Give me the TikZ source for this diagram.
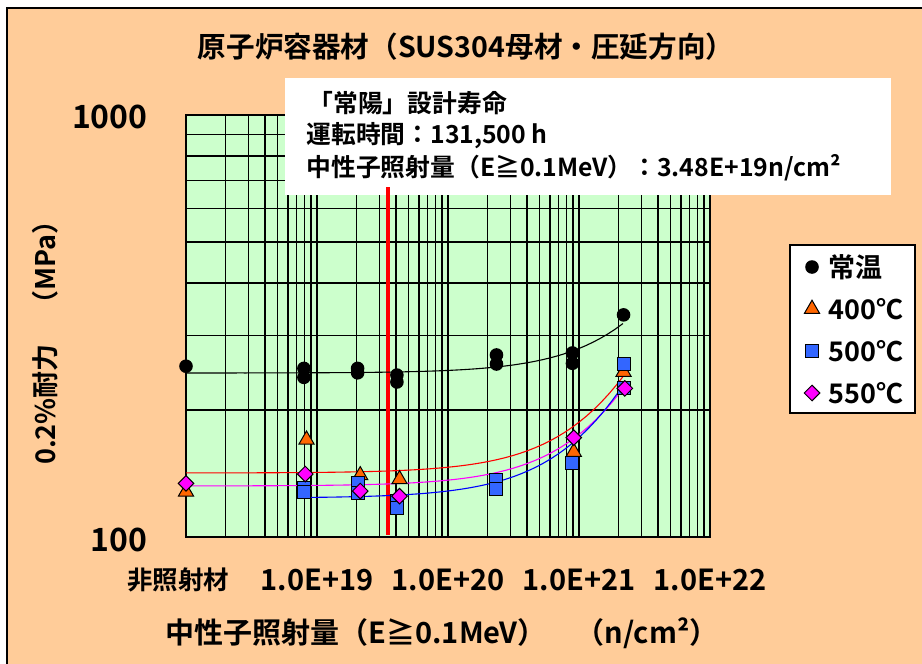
\documentclass[tikz,border=0pt]{standalone}
\usepackage{fontspec}
\setmainfont{Noto Sans CJK JP}[BoldFont={Noto Sans CJK JP Bold}]
\usetikzlibrary{shapes.geometric}
\definecolor{framebg}{HTML}{FFCC99}
\definecolor{plotbg}{HTML}{CCFFCC}
\definecolor{tri}{HTML}{FF6600}
\definecolor{sq}{HTML}{3366FF}
\definecolor{dia}{HTML}{FF00FF}
\newcommand{\fsz}[1]{\fontsize{#1}{#1}\selectfont\bfseries}

\begin{document}
\begin{tikzpicture}[x=0.5pt, y=-0.5pt,
	gridline/.style={black, line width=0.7pt},
	mkcirc/.style={circle, fill=black, inner sep=0pt, minimum size=6.8pt},
	mktri/.style={regular polygon, regular polygon sides=3, fill=tri, draw=black, line width=0.5pt, inner sep=0pt, minimum size=8.8pt},
	mksq/.style={rectangle, fill=sq, draw=black, line width=0.5pt, inner sep=0pt, minimum size=6.5pt},
	mkdia/.style={diamond, fill=dia, draw=black, line width=0.5pt, inner sep=0pt, minimum size=8pt},
	trend/.style={line width=0.55pt},
	boxtext/.style={anchor=west, inner sep=0pt, font=\fsz{12.4pt}},
	tick/.style={inner sep=0pt, font=\fsz{14.5pt}},
	legtext/.style={anchor=west, inner sep=0pt, font=\fsz{13.5pt}}]
	\useasboundingbox (0,0) rectangle (922,664);
	\clip (0,0) rectangle (922,664);
	\fill[white] (0,0) rectangle (922,664);
	\fill[framebg] (7,8) rectangle (930,670);
	\draw[black, line width=1pt] (7,670) -- (7,8) -- (930,8);

	% plot area: x in decades above 1E18, y in log10(MPa)-2
	\begin{scope}[shift={(186,537)}, x=65.5pt, y=211pt]
		\fill[plotbg] (0,0) rectangle (4,1);
		\foreach \d in {0,...,3}{
			\foreach \m in {2,...,9}
				\draw[gridline] ({\d+log10(\m)},0) -- ({\d+log10(\m)},1);
			\draw[gridline] (\d,0) -- (\d,1);
		}
		\foreach \m in {2,...,9}
			\draw[gridline] (0,{log10(\m)}) -- (4,{log10(\m)});
		\draw[black, line width=0.8pt] (0,0) rectangle (4,1);
	\end{scope}

	% Joyo design life box
	\fill[white] (285,78) rectangle (891,195);
	\node[boxtext] (life) at (308,103) {「常陽」設計寿命};
	\node[boxtext] (hours) at (306,136) {運転時間：131,500 h};
	\node[boxtext] (fluence) at (306,168) {中性子照射量（E≧0.1MeV）：3.48E+19n/cm²};

	\begin{scope}[shift={(186,537)}, x=65.5pt, y=211pt]
		\coordinate (jlow) at (1.54,0.005);
		\coordinate (jhigh) at (1.54,0.83);
		\draw[red, line width=2pt] (jlow) -- (jhigh);

		\draw[trend, black] plot[domain=0:3.336, samples=60] (\x, {log10(244.7+0.035*pow(10,\x))-2});
		\draw[trend, red] plot[domain=0:3.344, samples=60] (\x, {log10(141.8+0.0453*pow(10,\x))-2});
		\draw[trend, dia] plot[domain=0:3.351, samples=60] (\x, {log10(132.1+0.0428*pow(10,\x))-2});
		\draw[trend, blue] plot[domain=0.9:3.336, samples=60] (\x, {log10(123.7+0.0485*pow(10,\x))-2});

		\foreach \f/\s [count=\i] in {18/254, 18.90/251, 18.90/239, 19.31/251, 19.31/245, 19.61/242, 19.61/233, 20.37/270, 20.37/257, 20.95/273, 20.95/258, 21.34/336}
			\node[mkcirc] (rt\i) at ({\f-18},{log10(\s)-2}) {};
		\foreach \f/\s [count=\i] in {18/128, 18.92/170, 19.33/140, 19.63/137, 20.96/159, 21.34/246}
			\node[mktri] (ta\i) at ({\f-18},{log10(\s)-2}) {};
		\foreach \f/\s [count=\i] in {18.90/131, 18.90/128, 19.31/134, 19.31/127, 19.61/122, 19.61/117, 20.37/136.5, 20.37/130, 20.95/150, 21.34/257, 21.34/225}
			\node[mksq] (tb\i) at ({\f-18},{log10(\s)-2}) {};
		\foreach \f/\s [count=\i] in {18/134, 18.91/141, 19.33/128.5, 19.63/125, 20.96/172, 21.35/225}
			\node[mkdia] (tc\i) at ({\f-18},{log10(\s)-2}) {};
	\end{scope}

	% legend
	\filldraw[fill=white, draw=black, line width=0.8pt] (790,245) rectangle (915,413);
	\node[mkcirc] (lg1) at (812,267) {};
	\node[legtext] (lt1) at (828,267) {常温};
	\node[mktri] (lg2) at (812,309) {};
	\node[legtext] (lt2) at (828,309) {400℃};
	\node[mksq] (lg3) at (812,351) {};
	\node[legtext] (lt3) at (828,351) {500℃};
	\node[mkdia] (lg4) at (812,393) {};
	\node[legtext] (lt4) at (828,393) {550℃};

	% titles and ticks
	\node[inner sep=0pt, font=\fsz{14.3pt}] (title) at (466,47) {原子炉容器材（SUS304母材・圧延方向）};
	\node[tick, anchor=east, font=\fsz{16pt}] (y1000) at (148,117) {1000};
	\node[tick, anchor=east, font=\fsz{16pt}] (y100) at (148,540) {100};
	\node[inner sep=0pt, rotate=90, font=\fsz{13.5pt}] (ytitle) at (45,336) {0.2\%耐力　（MPa）};
	\node[tick, font=\fsz{12.75pt}] (xt0) at (178,580) {非照射材};
	\node[tick] (xt1) at (317,580) {1.0E+19};
	\node[tick] (xt2) at (448,580) {1.0E+20};
	\node[tick] (xt3) at (579,580) {1.0E+21};
	\node[tick] (xt4) at (710,580) {1.0E+22};
	\node[inner sep=0pt, font=\fsz{14.5pt}] (xtitle) at (442,633) {中性子照射量（E≧0.1MeV）　（n/cm²）};
\end{tikzpicture}
\end{document}
